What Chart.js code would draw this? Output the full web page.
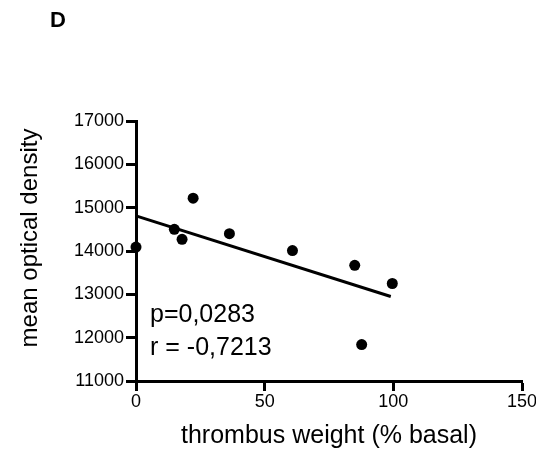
<!DOCTYPE html>
<html>
<head>
<meta charset="utf-8">
<script src="https://cdn.jsdelivr.net/npm/chart.js@4.4.1/dist/chart.umd.min.js"></script>
<style>
  html, body { margin: 0; padding: 0; background: #fff; }
  #wrap { width: 536px; height: 454px; position: relative; }
</style>
</head>
<body>
<div id="wrap"><canvas id="c" width="536" height="454"></canvas></div>
<script>
// ---- data ----
const thrombusWeight = [0, 14.9, 17.9, 22.2, 36.3, 60.8, 85.0, 87.7, 99.6];
const opticalDensity = [14090, 14500, 14270, 15220, 14400, 14010, 13670, 11840, 13250];
const fitX = [0, 99.0];
const fitY = [14810, 12950];
const xTicks = [0, 50, 100, 150];
const yTicks = [11000, 12000, 13000, 14000, 15000, 16000, 17000];
const panelLabel = 'D';
const xTitle = 'thrombus weight (% basal)';
const yTitle = 'mean optical density';
const statLines = ['p=0,0283', 'r = -0,7213'];

const FONT = "'Liberation Sans', Arial, Helvetica, sans-serif";

const points = thrombusWeight.map((x, i) => ({ x: x, y: opticalDensity[i] }));
const fitLine = fitX.map((x, i) => ({ x: x, y: fitY[i] }));

const textPlugin = {
  id: 'texts',
  afterDraw(chart) {
    const ctx = chart.ctx;
    const xs = chart.scales.x, ys = chart.scales.y;
    ctx.save();
    ctx.fillStyle = '#000';
    // panel label
    ctx.font = 'bold 22px ' + FONT;
    ctx.textAlign = 'left';
    ctx.textBaseline = 'alphabetic';
    ctx.fillText(panelLabel, 50, 27);
    // y title
    ctx.save();
    ctx.translate(37, 238);
    ctx.rotate(-Math.PI / 2);
    ctx.font = '24px ' + FONT;
    ctx.textAlign = 'center';
    ctx.textBaseline = 'alphabetic';
    ctx.fillText(yTitle, 0, 0);
    ctx.restore();
    // stats
    ctx.font = '25px ' + FONT;
    ctx.textAlign = 'left';
    const x0 = xs.getPixelForValue(0) + 14;
    ctx.fillText(statLines[0], x0, ys.getPixelForValue(12360));
    ctx.fillText(statLines[1], x0, ys.getPixelForValue(11600));
    ctx.restore();
  }
};

new Chart(document.getElementById('c'), {
  type: 'scatter',
  data: {
    datasets: [
      {
        type: 'line',
        data: fitLine,
        borderColor: '#000',
        borderWidth: 3,
        pointRadius: 0,
        fill: false,
        order: 2
      },
      {
        data: points,
        backgroundColor: '#000',
        borderColor: '#000',
        pointRadius: 5.5,
        pointBorderWidth: 0,
        order: 1
      }
    ]
  },
  options: {
    responsive: false,
    animation: false,
    clip: false,
    layout: { padding: { top: 121, left: 0, right: 14, bottom: 0 } },
    plugins: { legend: { display: false }, tooltip: { enabled: false } },
    scales: {
      x: {
        type: 'linear',
        min: 0, max: 150,
        afterBuildTicks(s) { s.ticks = xTicks.map(v => ({ value: v })); },
        afterFit(s) { s.height = 73; s.paddingLeft = 0; s.paddingRight = 0; },
        border: { display: true, color: '#000', width: 3 },
        grid: { drawOnChartArea: false, drawTicks: true, tickLength: 10, tickWidth: 3, tickColor: '#000' },
        ticks: { color: '#000', font: { family: FONT, size: 18 }, padding: 0, maxRotation: 0, autoSkip: false },
        title: { display: true, text: xTitle, color: '#000', font: { family: FONT, size: 25 }, padding: { top: 4, bottom: 3 } }
      },
      y: {
        type: 'linear',
        min: 11000, max: 17000,
        afterBuildTicks(s) { s.ticks = yTicks.map(v => ({ value: v })); },
        afterFit(s) { s.width = 136; s.paddingTop = 0; s.paddingBottom = 0; },
        border: { display: true, color: '#000', width: 3 },
        grid: { drawOnChartArea: false, drawTicks: true, tickLength: 10, tickWidth: 3, tickColor: '#000' },
        ticks: { color: '#000', font: { family: FONT, size: 18 }, padding: 2, autoSkip: false, callback: v => String(v) }
      }
    }
  },
  plugins: [textPlugin]
});
</script>
</body>
</html>
